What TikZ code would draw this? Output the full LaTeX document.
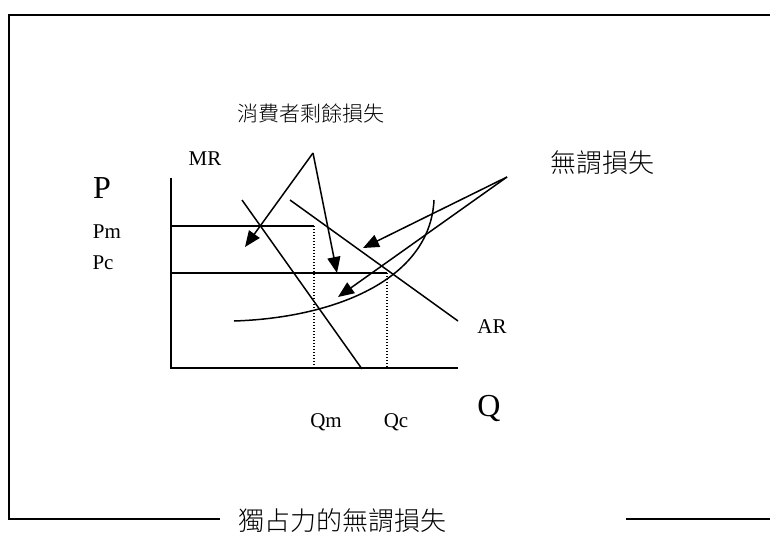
\documentclass[tikz,border=0pt]{standalone}
\usepackage{fontspec}
\setmainfont{Liberation Serif}
\IfFontExistsTF{Noto Sans CJK TC Light}
  {\newfontfamily\cjk{Noto Sans CJK TC Light}}
  {\newfontfamily\cjk{Noto Sans CJK TC}}
\usetikzlibrary{arrows.meta}
\begin{document}
\begin{tikzpicture}[x=1pt,y=-1pt,
  lbl/.style={inner sep=0pt, font=\fontsize{21}{21}\selectfont},
  biglbl/.style={inner sep=0pt, font=\fontsize{32}{32}\selectfont},
  cjksmall/.style={inner sep=0pt, font=\cjk\fontsize{21}{21}\selectfont},
  cjkbig/.style={inner sep=0pt, font=\cjk\fontsize{26}{26}\selectfont},
  frameline/.style={line width=1.6pt},
  curveline/.style={line width=1.5pt},
  axisline/.style={line width=1.8pt},
  guide/.style={line width=1.1pt, dash pattern=on 1.2pt off 1.8pt},
  pointer/.style={line width=1.5pt, -{Triangle[length=16pt,width=13pt]}},
]
\useasboundingbox (0,0) rectangle (770,538);

% frame
\draw[frameline] (770,15) -- (9,15) -- (9,519) -- (220,519);
\draw[frameline] (626,519) -- (770,519);
\node[cjkbig] (title) at (342,521) {獨占力的無謂損失};

% axes
\coordinate (O) at (171,368);
\coordinate (ytop) at (171,178);
\coordinate (xend) at (458,368);
\draw[axisline] (ytop) -- (O) -- (xend);

% price lines
\coordinate (pmL) at (171,226);
\coordinate (pmR) at (314,226);
\coordinate (pcL) at (171,273);
\coordinate (pcR) at (387,273);
\coordinate (qm) at (314,368);
\coordinate (qc) at (387,368);
\draw[curveline] (pmL) -- (pmR);
\draw[curveline] (pcL) -- (pcR);
\draw[guide] (pmR) -- (qm);
\draw[guide] (pcR) -- (qc);

% MR, AR
\coordinate (mr1) at (242,200);
\coordinate (mr2) at (362,369);
\coordinate (ar1) at (290,200);
\coordinate (ar2) at (458,321);
\draw[curveline] (mr1) -- (mr2);
\draw[curveline] (ar1) -- (ar2);

% MC curve
\coordinate (mc1) at (234,321);
\coordinate (mc2) at (434,200);
\draw[curveline] (mc1) .. controls (330,318) and (430,282) .. (mc2);

% labels
\node[biglbl] (P) at (102,188) {P};
\node[biglbl] (Q) at (489,408) {Q};
\node[lbl] (Pm) at (107,232) {Pm};
\node[lbl] (Pc) at (103,263) {Pc};
\node[lbl] (MR) at (205,159) {MR};
\node[lbl] (AR) at (492,327) {AR};
\node[lbl] (Qm) at (326,422) {Qm};
\node[lbl] (Qc) at (396,422) {Qc};

\node[cjksmall] (cs) at (311,113) {消費者剩餘損失};
\node[cjkbig] (dwl) at (602,163) {無謂損失};

% pointers
\coordinate (s1) at (313,153);
\coordinate (t1) at (245,247);
\coordinate (t2) at (337,273);
\draw[pointer] (s1) -- (t1);
\draw[pointer] (s1) -- (t2);

\coordinate (s2) at (507,177);
\coordinate (t3) at (363,248);
\coordinate (t4) at (338,297);
\draw[pointer] (s2) -- (t3);
\draw[pointer] (s2) -- (t4);
\end{tikzpicture}
\end{document}
